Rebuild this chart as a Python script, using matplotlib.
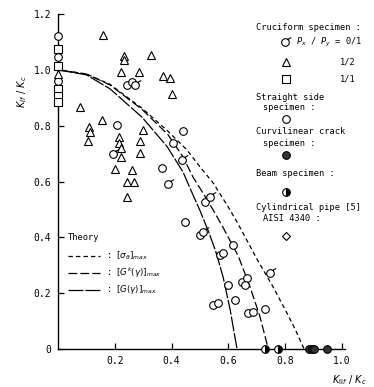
import matplotlib
matplotlib.use("Agg")
import matplotlib.pyplot as plt
from matplotlib.path import Path

plt.rcParams['font.family'] = ['DejaVu Sans Mono', 'DejaVu Sans']
plt.rcParams['mathtext.fontset'] = 'dejavusans'

# ---------------- data ----------------
# theory curves (K_IIf/Kc, K_If/Kc)
sig_x = [0.0, 0.10, 0.183, 0.296, 0.387, 0.454, 0.50, 0.546, 0.599, 0.63, 0.667, 0.70, 0.756, 0.80, 0.835, 0.866]
sig_y = [1.0, 0.985, 0.948, 0.862, 0.780, 0.713, 0.652, 0.595, 0.509, 0.455, 0.385, 0.322, 0.224, 0.14, 0.07, 0.0]
gk_x = [0.0, 0.10, 0.183, 0.296, 0.387, 0.44, 0.475, 0.51, 0.546, 0.581, 0.634, 0.676, 0.711, 0.74]
gk_y = [1.0, 0.985, 0.946, 0.858, 0.768, 0.688, 0.616, 0.559, 0.498, 0.435, 0.334, 0.222, 0.115, 0.0]
g_x = [0.0, 0.10, 0.183, 0.296, 0.384, 0.44, 0.465, 0.50, 0.53, 0.555, 0.581, 0.606, 0.63]
g_y = [1.0, 0.982, 0.932, 0.830, 0.725, 0.634, 0.575, 0.495, 0.42, 0.35, 0.258, 0.14, 0.0]

# cruciform Px/Py = 0/1 (circle with tail)
cr01_x = [0.271, 0.194, 0.437, 0.387, 0.511, 0.535, 0.746]
cr01_y = [0.946, 0.700, 0.677, 0.592, 0.419, 0.545, 0.272]
# cruciform Px/Py = 1/2 (triangle)
cr12_x = [0.0, 0.158, 0.232, 0.232, 0.327, 0.222, 0.285, 0.370, 0.394, 0.401, 0.077, 0.155,
          0.109, 0.113, 0.106, 0.215, 0.215, 0.300, 0.289, 0.222, 0.222, 0.289, 0.200, 0.260,
          0.243, 0.268, 0.243]
cr12_y = [0.985, 1.125, 1.050, 1.036, 1.054, 0.993, 0.993, 0.978, 0.971, 0.914, 0.867, 0.822,
          0.797, 0.779, 0.746, 0.760, 0.738, 0.783, 0.746, 0.720, 0.686, 0.703, 0.645, 0.640,
          0.600, 0.598, 0.545]
# cruciform Px/Py = 1/1 (square)
cr11_x = [0.0, 0.0, 0.0, 0.0, 0.0]
cr11_y = [1.075, 1.012, 0.930, 0.905, 0.885]
# straight side specimen (open circle)
ss_x = [0.0, 0.0, 0.0, 0.243, 0.260, 0.208, 0.440, 0.405, 0.366, 0.447, 0.500, 0.518, 0.616,
        0.570, 0.580, 0.599, 0.648, 0.665, 0.658, 0.546, 0.563, 0.623, 0.669, 0.687, 0.729]
ss_y = [1.120, 1.045, 0.960, 0.946, 0.957, 0.803, 0.780, 0.738, 0.649, 0.455, 0.409, 0.527, 0.373,
        0.337, 0.344, 0.229, 0.240, 0.254, 0.229, 0.158, 0.165, 0.176, 0.129, 0.133, 0.143]
# curvilinear crack specimen (filled)
cc_x = [0.882, 0.893, 0.900, 0.947]
cc_y = [0.0, 0.0, 0.0, 0.0]
# beam specimen (half filled)
bm_x = [0.729, 0.775]
bm_y = [0.0, 0.0]

yticks = [0.0, 0.2, 0.4, 0.6, 0.8, 1.0, 1.2]
ytick_labels = ['0', '0.2', '0.4', '0.6', '0.8', '1.0', '1.2']
xticks = [0.2, 0.4, 0.6, 0.8, 1.0]
xtick_labels = ['0.2', '0.4', '0.6', '0.8', '1.0']

# ---------------- figure ----------------
W, H = 374, 387
fig = plt.figure(figsize=(W / 100, H / 100), dpi=100)
ax = fig.add_axes([58 / W, 1 - 349 / H, 287 / W, 335 / H])
ax.set_xlim(0, 1.01)
ax.set_ylim(0, 1.2)
for s in ['top', 'right']:
    ax.spines[s].set_visible(False)
for s in ['left', 'bottom']:
    ax.spines[s].set_linewidth(1.0)
ax.set_xticks(xticks)
ax.set_xticklabels(xtick_labels)
ax.set_yticks(yticks)
ax.set_yticklabels(ytick_labels)
ax.tick_params(direction='in', length=4, width=0.9, labelsize=7, pad=5)

lw = 0.9
ax.plot(sig_x, sig_y, color='black', lw=lw, dashes=(3.5, 2.5))
ax.plot(gk_x, gk_y, color='black', lw=lw, dashes=(7, 2.5))
ax.plot(g_x, g_y, color='black', lw=lw, dashes=(12, 1.5))

ms = 5.5
mkw = dict(linestyle='none', markerfacecolor='white', markeredgecolor='black',
           markeredgewidth=0.8, clip_on=False, zorder=3)

tail = Path.make_compound_path(
    Path.unit_circle(),
    Path([[0.6, 0.8], [1.0, 1.05], [1.5, 1.3]], [Path.MOVETO, Path.LINETO, Path.LINETO]))
tail_ms = ms * 1.5

ax.plot(ss_x, ss_y, marker='o', markersize=ms, **mkw)
ax.plot(cr11_x, cr11_y, marker='s', markersize=ms - 0.3, **mkw)
ax.plot(cr12_x, cr12_y, marker='^', markersize=ms + 0.5, **mkw)
ax.plot(cr01_x, cr01_y, marker=tail, markersize=tail_ms, **mkw)
ax.plot(cc_x, cc_y, marker='o', markersize=ms, linestyle='none', markerfacecolor='#333333',
        markeredgecolor='black', markeredgewidth=0.8, clip_on=False, zorder=3)
ax.plot(bm_x, bm_y, marker='o', markersize=ms, linestyle='none', fillstyle='right',
        markerfacecolor='black', markerfacecoloralt='white', markeredgecolor='black',
        markeredgewidth=0.8, clip_on=False, zorder=3)

# axis labels
fig.text(22 / W, 1 - 92 / H, r'$K_{If}\ /\ K_c$', rotation=90, ha='center', va='center', fontsize=7)
fig.text(349 / W, 1 - 380 / H, r'$K_{\mathrm{II}f}\ /\ K_c$', ha='center', va='center', fontsize=7)

fs = 6.2


def ftxt(px, py, s, ha='left'):
    fig.text(px / W, 1 - py / H, s, ha=ha, va='center', fontsize=fs)


def fmark(px, py, **kw):
    d = dict(mkw)
    d.update(kw)
    d['clip_on'] = False
    fig.add_artist(plt.Line2D([px / W], [1 - py / H], transform=fig.transFigure, **d))


# specimen legend
ftxt(256, 28, 'Cruciform specimen :')
fmark(285, 42, marker=tail, markersize=tail_ms)
ftxt(296, 42, r'$P_x$ / $P_y$ = 0/1')
fmark(286, 62, marker='^', markersize=ms + 0.5)
ftxt(356, 62, '1/2', ha='right')
fmark(286, 79, marker='s', markersize=ms - 0.3)
ftxt(356, 79, '1/1', ha='right')
ftxt(256, 97, 'Straight side')
ftxt(263, 107, 'specimen :')
fmark(286, 119, marker='o', markersize=ms)
ftxt(256, 132, 'Curvilinear crack')
ftxt(263, 143, 'specimen :')
fmark(286, 155, marker='o', markersize=ms, markerfacecolor='#333333')
ftxt(256, 173, 'Beam specimen :')
fmark(286, 192, marker='o', markersize=ms, fillstyle='right',
      markerfacecolor='black', markerfacecoloralt='white')
ftxt(256, 208, 'Cylindrical pipe [5]')
ftxt(263, 218, 'AISI 4340 :')
fmark(286, 236, marker='D', markersize=ms - 1)

# theory legend
ftxt(68, 238, 'Theory')
for py, dsh, lab in [(256, (3.5, 2.5), r': $[\sigma_\theta]_{max}$'),
                     (273, (7, 2.5), r': $[G^k(\gamma)]_{max}$'),
                     (290, (12, 1.5), r': $[G(\gamma)]_{max}$')]:
    fig.add_artist(plt.Line2D([68 / W, 100 / W], [1 - py / H, 1 - py / H],
                              transform=fig.transFigure, color='black', lw=lw, dashes=dsh))
    ftxt(106, py, lab)

fig.savefig('out.png', dpi=100)
